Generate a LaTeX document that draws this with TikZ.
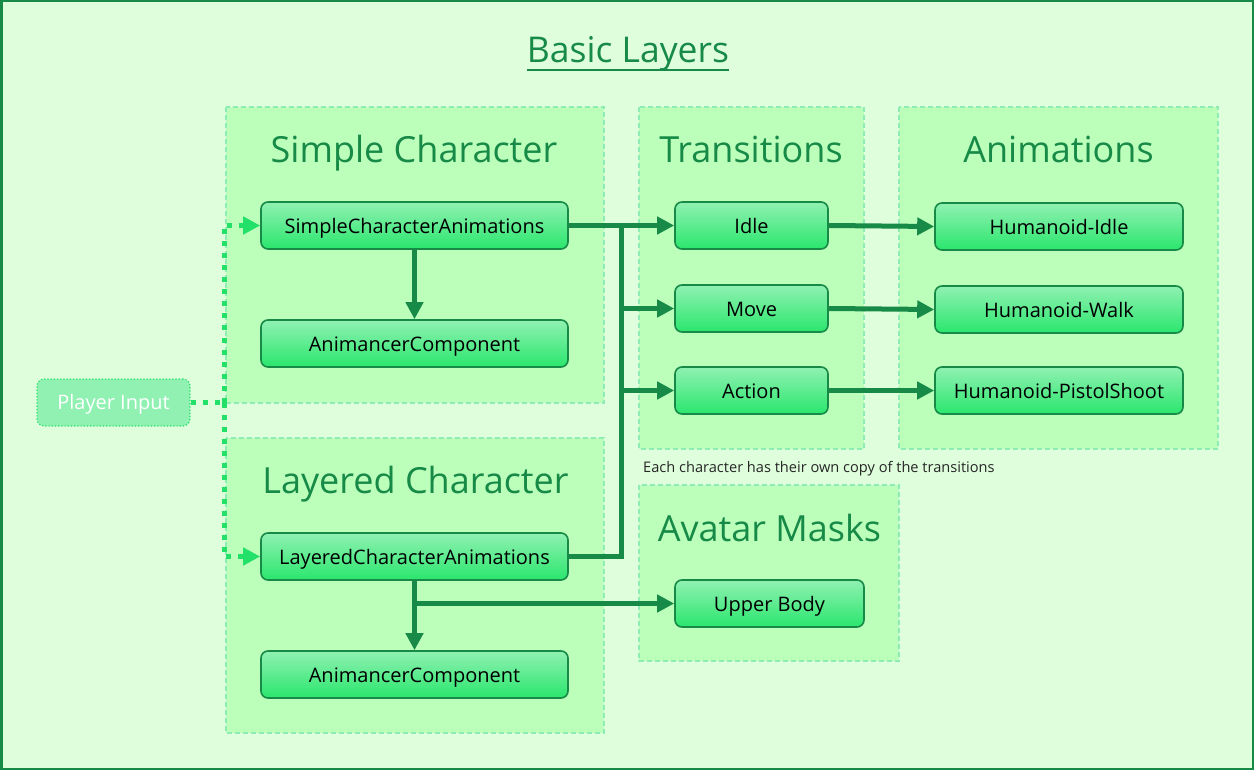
\documentclass[tikz,border=0pt]{standalone}
\usepackage{fontspec}
\setmainfont{Open Sans}
\usetikzlibrary{arrows.meta}
\definecolor{bg}{HTML}{DFFEDC}
\definecolor{grpfill}{HTML}{BBFFBA}
\definecolor{grpline}{HTML}{8EEDB5}
\definecolor{dk}{HTML}{178A47}
\definecolor{ntop}{HTML}{90F1B2}
\definecolor{nbot}{HTML}{2AE66D}
\definecolor{bright}{HTML}{22E068}
\tikzset{
  x=1pt, y=-1pt,
  grp/.style={draw=grpline, fill=grpfill, dashed, dash pattern=on 5pt off 3pt, line width=1.2pt},
  grptitle/.style={text=dk, font=\fontsize{36}{42}\selectfont, anchor=base, inner sep=0pt},
  box/.style={draw=dk, line width=1.6pt, rounded corners=7pt, top color=ntop, bottom color=nbot,
    minimum height=47pt, inner sep=0pt, text height=16pt, text depth=0pt, text=black, font=\fontsize{20}{24}\selectfont},
  conn/.style={draw=dk, line width=5pt, -{Triangle[length=17pt,width=17pt]}},
  plain/.style={draw=dk, line width=5pt},
  dots/.style={draw=bright, line width=5pt, dash pattern=on 5pt off 7pt},
  dotarrow/.style={dots, -{Triangle[length=17pt,width=17pt]}},
}
\begin{document}
\begin{tikzpicture}
\useasboundingbox (0,0) rectangle (1254,770);
\fill[bg] (0,0) rectangle (1254,770);
\draw[dk, line width=2.5pt] (1.25,1.25) rectangle (1252.75,768.75);

\node[text=dk, font=\fontsize{35.5}{40}\selectfont, anchor=base, inner sep=0pt] (title) at (628,63) {Basic Layers};
\draw[dk, line width=2.5pt] ([yshift=-7pt]title.base west) -- ([yshift=-7pt]title.base east);

% groups
\draw[grp] (226,107) rectangle (604,403);
\draw[grp] (226,438) rectangle (604,733);
\draw[grp] (639,107) rectangle (864,449);
\draw[grp] (899,107) rectangle (1218,449);
\draw[grp] (639,485) rectangle (899,661);

\node[grptitle] (tsc) at (414,163) {Simple Character};
\node[grptitle] (tlc) at (415.5,493) {Layered Character};
\node[grptitle] (ttr) at (751,163) {Transitions};
\node[grptitle] (tan) at (1058.5,163) {Animations};
\node[grptitle] (tam) at (769.5,541.5) {Avatar Masks};

\node[font=\fontsize{14.6}{17}\selectfont, text=black!85, anchor=base west, inner sep=0pt] (note) at (643,472.7) {Each character has their own copy of the transitions};

% nodes
\node[box, minimum width=307pt] (sca) at (414.5,225.5) {SimpleCharacterAnimations};
\node[box, minimum width=307pt] (ac1) at (414.5,343.5) {AnimancerComponent};
\node[box, minimum width=307pt] (lca) at (414.5,556.5) {LayeredCharacterAnimations};
\node[box, minimum width=307pt] (ac2) at (414.5,674.5) {AnimancerComponent};
\node[box, minimum width=153pt] (idle) at (751.5,225.5) {Idle};
\node[box, minimum width=153pt] (move) at (751.5,308.5) {Move};
\node[box, minimum width=153pt] (action) at (751.5,390.5) {Action};
\node[box, minimum width=248pt] (hidle) at (1059,226.5) {Humanoid-Idle};
\node[box, minimum width=248pt] (hwalk) at (1059,309.5) {Humanoid-Walk};
\node[box, minimum width=248pt] (hpistol) at (1059,390.5) {Humanoid-PistolShoot};
\node[box, minimum width=189pt] (upper) at (769.5,603.5) {Upper Body};
\node[draw=bright, line width=1.2pt, dotted, rounded corners=7pt, fill=ntop, minimum width=153pt, minimum height=47pt, inner sep=0pt, text height=14pt, text depth=0pt, text=white, font=\fontsize{20}{24}\selectfont] (player) at (113.5,402.5) {Player Input};

% connectors
\coordinate (t1) at (621,225.5);
\coordinate (t4) at (621,556.5);
\coordinate (b1) at (414.5,603.5);
\coordinate (d0) at (224,402.5);
\draw[conn] (sca) -- (ac1);
\draw[conn] (lca) -- (ac2);
\draw[conn] (sca.east) -- (idle.west);
\draw[plain] (lca.east) -- (t4) -- (t1);
\draw[conn] (move.west -| t1) -- (move.west);
\draw[conn] (action.west -| t1) -- (action.west);
\draw[conn] (b1) -- (upper.west);
\draw[conn] (idle.east) -- (hidle.west);
\draw[conn] (move.east) -- (hwalk.west);
\draw[conn] (action.east) -- (hpistol.west);

\draw[dots] (player.east) -- (d0);
\draw[dotarrow] (d0) -- (d0 |- sca.west) -- (sca.west);
\draw[dotarrow] (d0) -- (d0 |- lca.west) -- (lca.west);
\end{tikzpicture}
\end{document}
